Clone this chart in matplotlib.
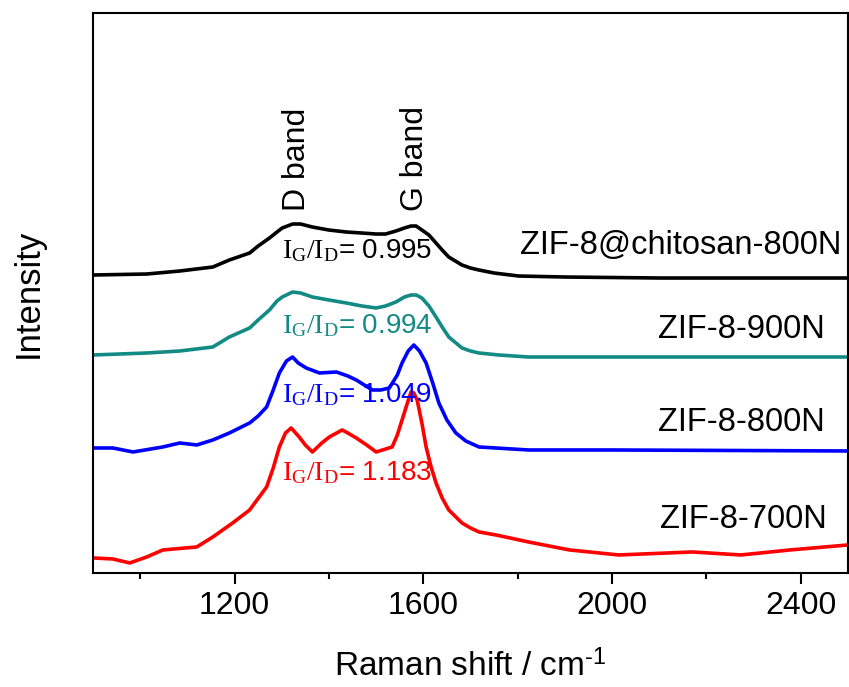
import matplotlib
matplotlib.use("Agg")
import matplotlib.pyplot as plt

plt.rcParams['font.family'] = ['Liberation Sans', 'DejaVu Sans']
plt.rcParams['mathtext.fontset'] = 'custom'
plt.rcParams['mathtext.rm'] = 'Liberation Serif'
plt.rcParams['mathtext.it'] = 'Liberation Serif'
plt.rcParams['mathtext.sf'] = 'Liberation Sans'

# Raman spectra (offset stacked, arbitrary intensity units)
x_black = [900, 1014, 1084, 1154, 1189, 1232, 1250, 1274, 1290, 1301, 1323, 1340,
           1365, 1400, 1437, 1470, 1500, 1520, 1542, 1560, 1574, 1585, 1597, 1612,
           1627, 1640, 1654, 1682, 1700, 1718, 1750, 1802, 1900, 2100, 2300, 2500]
y_black = [298, 299, 302, 306, 313, 320, 327, 335, 341, 345, 349, 349,
           346, 343, 341, 340, 339, 339, 342, 345, 347, 347, 343, 338,
           330, 323, 316, 308, 305, 303, 300, 297, 296, 295, 295, 295]

x_teal = [900, 1014, 1084, 1154, 1189, 1232, 1250, 1274, 1290, 1301, 1323, 1340,
          1365, 1400, 1437, 1470, 1500, 1520, 1542, 1560, 1574, 1585, 1597, 1612,
          1627, 1640, 1654, 1682, 1700, 1718, 1760, 1823, 2000, 2500]
y_teal = [218, 220, 222, 226, 236, 245, 253, 263, 272, 276, 281, 280,
          276, 273, 270, 267, 265, 267, 271, 276, 278, 278, 275, 267,
          256, 246, 236, 225, 222, 220, 218, 216, 216, 216]

x_blue = [900, 942, 985, 1048, 1084, 1120, 1154, 1189, 1232, 1250, 1268, 1282,
          1295, 1310, 1323, 1335, 1352, 1380, 1416, 1440, 1458, 1492, 1510, 1528,
          1545, 1555, 1568, 1580, 1592, 1606, 1620, 1633, 1650, 1669, 1690, 1718,
          1823, 2000, 2500]
y_blue = [125, 125, 121, 126, 130, 128, 133, 140, 150, 157, 166, 183,
          200, 212, 216, 210, 205, 200, 201, 197, 193, 183, 183, 185,
          198, 210, 222, 228, 222, 210, 190, 170, 153, 140, 132, 126,
          123, 123, 122]

x_red = [900, 942, 978, 1014, 1048, 1120, 1154, 1196, 1232, 1268, 1282, 1295,
         1308, 1320, 1337, 1350, 1365, 1385, 1401, 1428, 1440, 1458, 1480, 1500,
         1534, 1545, 1555, 1565, 1574, 1580, 1587, 1597, 1606, 1616, 1627, 1640,
         1654, 1682, 1700, 1718, 1754, 1823, 1910, 2014, 2170, 2273, 2377, 2500]
y_red = [15, 14, 10, 16, 23, 26, 36, 50, 63, 86, 105, 126,
         140, 145, 136, 128, 121, 130, 136, 143, 140, 135, 128, 121,
         126, 138, 153, 168, 181, 180, 173, 150, 126, 107, 90, 75,
         63, 50, 45, 41, 38, 31, 23, 18, 21, 18, 23, 28]

names = ['ZIF-8@chitosan-800N', 'ZIF-8-900N', 'ZIF-8-800N', 'ZIF-8-700N']
ratios = ['0.995', '0.994', '1.049', '1.183']
colors = ['black', '#138A84', '#0000FF', '#FF0000']
name_x = [2485, 2451, 2451, 2455]
name_y = [328, 243, 150, 53]
ratio_y = [315, 240, 171, 93]

fig = plt.figure(figsize=(8.49, 6.87), dpi=100)
ax = fig.add_axes([0.1095, 0.166, 0.8893, 0.815])

series = [(x_black, y_black), (x_teal, y_teal), (x_blue, y_blue), (x_red, y_red)]
for (xs, ys), c in zip(series, colors):
    ax.plot(xs, ys, color=c, lw=2.6)

for name, nx, ny in zip(names, name_x, name_y):
    ax.text(nx, ny, name, ha='right', va='center', fontsize=23.5, color='black')

for r, ry, c in zip(ratios, ratio_y, colors):
    ax.text(1300, ry, r'$\mathrm{I_G/I_D}$= ' + r, ha='left', va='baseline',
            fontsize=20, color=c)

ax.text(1333, 362, 'D band', rotation=90, ha='center', va='bottom', fontsize=23)
ax.text(1582, 362, 'G band', rotation=90, ha='center', va='bottom', fontsize=23)

ax.set_xlim(900, 2500)
ax.set_ylim(0, 560)
ax.set_yticks([])
ax.set_xticks([1200, 1600, 2000, 2400])
ax.set_xticks([1000, 1400, 1800, 2200], minor=True)
ax.tick_params(axis='x', which='major', length=8, width=1.5, labelsize=23, pad=5)
ax.tick_params(axis='x', which='minor', length=4.5, width=1.5)
for s in ax.spines.values():
    s.set_linewidth(1.5)

ax.set_xlabel('Raman shift / cm$^{\\mathsf{\u2010}\\mathsf{1}}$', fontsize=24, labelpad=21)
ax.set_ylabel('Intensity', fontsize=25, labelpad=35)

fig.savefig('out.png', dpi=100)
